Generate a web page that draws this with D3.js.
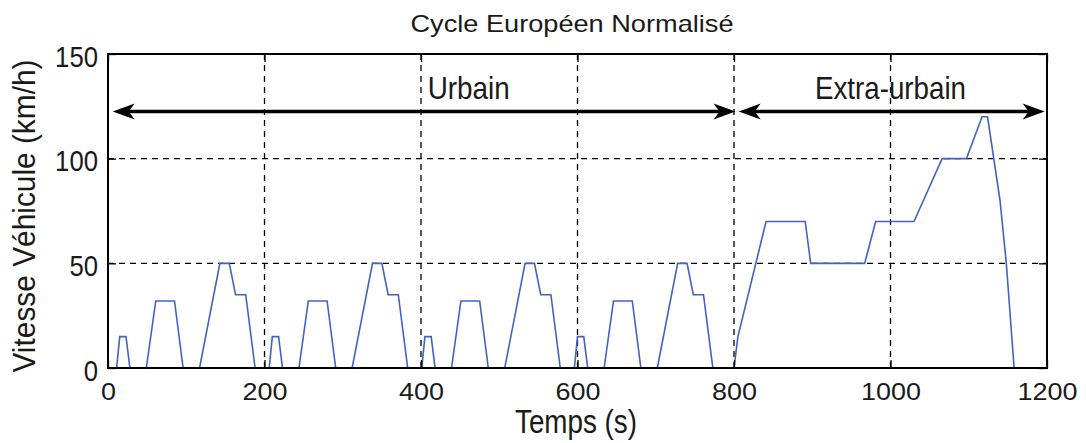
<!DOCTYPE html>
<html><head><meta charset="utf-8">
<script src="https://cdn.jsdelivr.net/npm/d3@7/dist/d3.min.js"></script>
<style>
html,body{margin:0;padding:0;background:#fff;}
svg text{font-family:"Liberation Sans",Arial,sans-serif;fill:#1a1a1a;}
</style></head>
<body><svg id="c" width="1086" height="443"></svg>
<script>
// Data: NEDC speed profile (time in s, speed in km/h)
const times = [
  0,11,15,23,28,49,61,85,96,117,143,155,163,176,188,
  195,206,210,218,223,244,256,280,291,312,338,350,358,371,383,
  390,401,405,413,418,439,451,475,486,507,533,545,553,566,578,
  585,596,600,608,613,634,646,670,681,702,728,740,748,761,773,
  780,800,805,841,891,898,967,981,1030,1066,1097,1117,1124,1140,1148,1158,1180
];
const speeds = [
  0,0,15,15,0,0,32,32,0,0,50,50,35,35,0,
  0,0,15,15,0,0,32,32,0,0,50,50,35,35,0,
  0,0,15,15,0,0,32,32,0,0,50,50,35,35,0,
  0,0,15,15,0,0,32,32,0,0,50,50,35,35,0,
  0,0,15,70,70,50,50,70,70,100,100,120,120,80,50,0,0
];
const xTicks = [0,200,400,600,800,1000,1200];
const yTicks = [0,50,100,150];
const phaseNames = ["Urbain","Extra-urbain"];
const phaseStart = [6,806];
const phaseEnd = [802,1197];
const phaseLabelT = [461,1000];
const arrowLevel = 122.5;
const labelLevel = 128.5;
const title = "Cycle Européen Normalisé";
const xLabel = "Temps (s)";
const yLabel = "Vitesse Véhicule (km/h)";

const svg = d3.select("#c");
const L=108, R=1047, T=54, B=368;
const x = d3.scaleLinear().domain([0,1200]).range([L,R]);
const y = d3.scaleLinear().domain([0,150]).range([B,T]);

// grid
const g = svg.append("g");
g.selectAll("line.vx").data(xTicks.filter(d=>d>0&&d<1200)).enter().append("line")
  .attr("x1",d=>x(d)).attr("x2",d=>x(d)).attr("y1",B).attr("y2",T)
  .attr("stroke","#000").attr("stroke-width",1.3).attr("stroke-dasharray","6,5");
g.selectAll("line.hy").data(yTicks.filter(d=>d>0&&d<150)).enter().append("line")
  .attr("y1",d=>y(d)).attr("y2",d=>y(d)).attr("x1",L).attr("x2",R)
  .attr("stroke","#000").attr("stroke-width",1.3).attr("stroke-dasharray","6,5");

// data line
const pts = times.map((t,i)=>[t,speeds[i]]);
svg.append("path").datum(pts)
  .attr("d",d3.line().x(d=>x(d[0])).y(d=>y(d[1])))
  .attr("fill","none").attr("stroke","#4063c4").attr("stroke-width",1.6);

// axes
const fmt = d3.format("d");
const xa = svg.append("g").attr("transform",`translate(0,${B})`)
  .call(d3.axisBottom(x).tickValues(xTicks).tickFormat(fmt).tickSizeInner(-8).tickSizeOuter(0).tickPadding(0));
const ya = svg.append("g").attr("transform",`translate(${L},0)`)
  .call(d3.axisLeft(y).tickValues(yTicks).tickFormat(fmt).tickSizeInner(-8).tickSizeOuter(0).tickPadding(10));
svg.append("g").attr("transform",`translate(0,${T})`)
  .call(d3.axisTop(x).tickValues(xTicks).tickSizeInner(-8).tickSizeOuter(0).tickFormat(""));
svg.append("g").attr("transform",`translate(${R},0)`)
  .call(d3.axisRight(y).tickValues(yTicks).tickSizeInner(-8).tickSizeOuter(0).tickFormat(""));
svg.selectAll(".domain").remove();
svg.selectAll(".tick line").attr("stroke","#000").attr("stroke-width",1.3);
xa.selectAll("text").attr("font-size",24).attr("fill","#1a1a1a").attr("font-family",null)
  .attr("y",32).attr("dy",null)
  .each(function(){const s=this.textContent.length; d3.select(this).attr("textLength",s*15).attr("lengthAdjust","spacingAndGlyphs");});
ya.selectAll("text").attr("font-size",30).attr("fill","#1a1a1a").attr("font-family",null)
  .attr("dy",null).attr("y",12)
  .each(function(){const s=this.textContent.length; d3.select(this).attr("textLength",s*14.3).attr("lengthAdjust","spacingAndGlyphs");});

svg.append("rect").attr("x",L).attr("y",T).attr("width",R-L).attr("height",B-T)
  .attr("fill","none").attr("stroke","#000").attr("stroke-width",2);

// phase arrows
function head(xt, yv, dir){
  const len=22, hw=8, back=6;
  return `M${xt},${yv} L${xt-dir*len},${yv-hw} L${xt-dir*(len-back)},${yv} L${xt-dir*len},${yv+hw} Z`;
}
phaseNames.forEach((nm,i)=>{
  const x1=x(phaseStart[i]), x2=x(phaseEnd[i]), yy=y(arrowLevel);
  svg.append("line").attr("x1",x1+8).attr("x2",x2-8).attr("y1",yy).attr("y2",yy)
    .attr("stroke","#000").attr("stroke-width",3.5);
  svg.append("path").attr("d",head(x1,yy,-1)).attr("fill","#000");
  svg.append("path").attr("d",head(x2,yy,1)).attr("fill","#000");
  svg.append("text").attr("x",x(phaseLabelT[i])).attr("y",y(labelLevel)).attr("text-anchor","middle")
    .attr("font-size",32).attr("textLength",i===0?82:151).attr("lengthAdjust","spacingAndGlyphs").text(nm);
});

// titles
svg.append("text").attr("x",572).attr("y",32).attr("text-anchor","middle").attr("font-size",24)
  .attr("textLength",323).attr("lengthAdjust","spacingAndGlyphs").text(title);
svg.append("text").attr("x",576).attr("y",433).attr("text-anchor","middle").attr("font-size",33)
  .attr("textLength",122).attr("lengthAdjust","spacingAndGlyphs").text(xLabel);
svg.append("text").attr("transform","translate(35,216) rotate(-90)").attr("text-anchor","middle").attr("font-size",31)
  .attr("textLength",313).attr("lengthAdjust","spacingAndGlyphs").text(yLabel);
</script></body></html>
